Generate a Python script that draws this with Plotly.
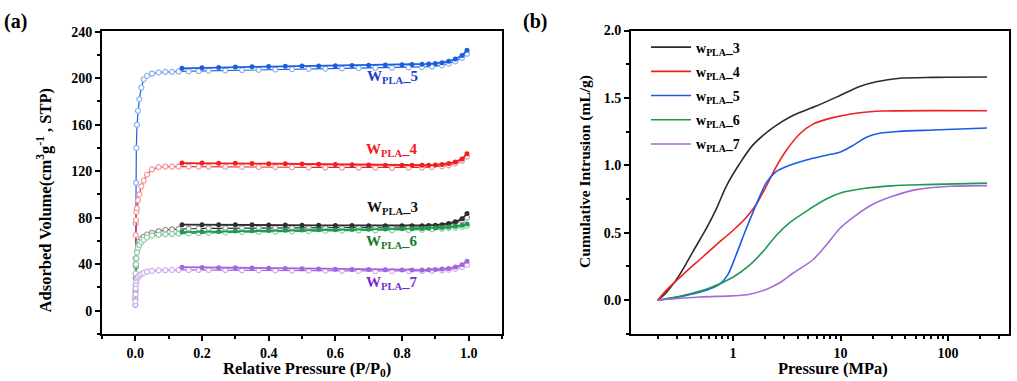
import plotly.graph_objects as go

# ---------------- Panel (a): N2 isotherms ----------------
P_ADS = [0.0, 0.0005, 0.001, 0.002, 0.003, 0.005, 0.008, 0.012, 0.018, 0.025, 0.035, 0.05,
         0.07, 0.09, 0.11, 0.13, 0.16, 0.19, 0.22, 0.27, 0.32, 0.37, 0.42, 0.47, 0.52, 0.57,
         0.62, 0.67, 0.72, 0.77, 0.82, 0.86, 0.89, 0.92, 0.94, 0.96, 0.98, 0.995]
P_DES = [0.14, 0.2, 0.25, 0.3, 0.35, 0.4, 0.45, 0.5, 0.55, 0.6, 0.65, 0.7, 0.75, 0.8, 0.83,
         0.86, 0.88, 0.9, 0.92, 0.94, 0.96, 0.98, 0.995]

W5_ADS = [5, 40, 75, 110, 140, 160, 172, 182, 192, 199, 202, 204, 205, 205.5, 205.5, 205.8,
          206, 206.2, 206.5, 206.7, 207, 207.2, 207.5, 207.8, 208, 208.3, 208.5, 208.7, 209,
          209, 209.3, 209.5, 210, 211, 212.5, 214.5, 217.5, 221]
W5_DES = [208.5, 209, 209.3, 209.6, 209.8, 210, 210.2, 210.4, 210.6, 210.8, 211, 211.2, 211.4,
          211.6, 211.8, 212, 212.3, 212.7, 213.3, 214.5, 216.5, 219.5, 224]

W4_ADS = [15, 45, 65, 78, 85, 88, 95, 100, 107, 112, 117, 121.5, 123.5, 124, 124, 124, 124,
          124, 124, 123.8, 123.7, 123.6, 123.5, 123.4, 123.3, 123.2, 123.1, 123, 123, 122.9,
          123, 123.2, 123.6, 124.2, 125, 126.5, 129, 132.5]
W4_DES = [127, 127, 126.9, 126.8, 126.7, 126.5, 126.4, 126.2, 126, 125.8, 125.6, 125.4, 125.2,
          125, 125, 125, 125.1, 125.3, 125.8, 126.6, 128, 130.5, 135]

W3_ADS = [10, 18, 28, 38, 45, 51, 56, 59.5, 62, 63.5, 65.5, 67, 68.5, 69.5, 70, 70.3, 70.5,
          70.7, 70.8, 71, 71, 71, 71.1, 71.2, 71.2, 71.3, 71.3, 71.4, 71.4, 71.5, 71.5, 71.8,
          72.2, 73, 74, 75.5, 77.5, 80]
W3_DES = [74, 74, 74, 73.9, 73.8, 73.7, 73.6, 73.5, 73.4, 73.3, 73.2, 73.1, 73, 73, 73, 73.1,
          73.3, 73.5, 74, 75, 76.5, 79, 83.5]

W6_ADS = [12, 22, 32, 40, 45, 50, 54, 56.5, 59, 61, 63, 64.5, 65.2, 65.7, 66, 66.3, 66.6,
          66.8, 67, 67.3, 67.6, 67.8, 68, 68.2, 68.4, 68.6, 68.8, 69, 69.1, 69.2, 69.3, 69.6,
          70, 70.5, 71, 71.5, 72.2, 73]
W6_DES = [67.6, 67.9, 68.2, 68.5, 68.7, 68.9, 69.1, 69.3, 69.5, 69.7, 69.9, 70.1, 70.3, 70.4,
          70.5, 70.7, 70.9, 71.2, 71.5, 72, 72.6, 73.4, 74.5]

W7_ADS = [8, 14, 19, 23, 25.5, 27.5, 29, 30.5, 31.5, 32.5, 33.5, 34.2, 34.6, 34.8, 35, 35, 35,
          35, 35, 34.9, 34.8, 34.7, 34.6, 34.5, 34.5, 34.4, 34.3, 34.2, 34.1, 34, 34, 34.1,
          34.3, 34.7, 35.2, 36, 37.5, 39.5]
W7_DES = [37.4, 37.2, 37, 36.8, 36.6, 36.4, 36.2, 36, 35.8, 35.6, 35.5, 35.4, 35.2, 35, 35, 35,
          35.1, 35.4, 35.8, 36.3, 37.5, 39.5, 42.5]

# ---------------- Panel (b): mercury intrusion ----------------
P_W3 = [0.2, 0.24, 0.32, 0.425, 0.565, 0.70, 0.867, 1.15, 1.53, 2.36, 3.61, 5.96, 10, 15.1,
        21.5, 35.5, 72.5, 230]
V_W3 = [0, 0.056, 0.19, 0.36, 0.53, 0.675, 0.845, 1.01, 1.15, 1.28, 1.37, 1.44, 1.52, 1.585,
        1.62, 1.646, 1.653, 1.655]
P_W4 = [0.2, 0.24, 0.343, 0.49, 0.70, 1.0, 1.33, 1.65, 2.04, 2.53, 3.13, 4.17, 5.55, 8.52,
        15.1, 24.8, 230]
V_W4 = [0, 0.073, 0.19, 0.30, 0.41, 0.517, 0.614, 0.711, 0.845, 0.99, 1.11, 1.233, 1.306,
        1.354, 1.39, 1.403, 1.405]
P_W5 = [0.2, 0.343, 0.565, 0.75, 0.898, 1.07, 1.33, 1.65, 2.04, 2.53, 3.37, 4.81, 7.38, 10,
        13.1, 17.4, 23.1, 35.5, 72.5, 230]
V_W5 = [0, 0.03, 0.073, 0.117, 0.19, 0.335, 0.53, 0.711, 0.87, 0.954, 1.0, 1.04, 1.075, 1.1,
        1.148, 1.209, 1.238, 1.252, 1.262, 1.277]
P_W6 = [0.2, 0.343, 0.607, 1.0, 1.43, 1.9, 2.53, 3.37, 4.6, 7.38, 10, 17, 30, 60, 230]
V_W6 = [0, 0.035, 0.09, 0.17, 0.26, 0.36, 0.48, 0.575, 0.65, 0.75, 0.795, 0.83, 0.848, 0.857,
        0.868]
P_W7 = [0.2, 0.49, 1.0, 1.43, 2.04, 2.72, 3.61, 5.55, 7.38, 9.8, 13.1, 20, 30.9, 50.7, 104, 230]
V_W7 = [0, 0.024, 0.032, 0.044, 0.08, 0.129, 0.2, 0.3, 0.41, 0.53, 0.614, 0.711, 0.772, 0.82,
        0.845, 0.85]

FONT = "Liberation Serif"
W, H = 1017, 381

fig = go.Figure()

iso = [
    ("5", W5_ADS, W5_DES, "#1a5fe0", "#8fb2ef"),
    ("4", W4_ADS, W4_DES, "#ee2020", "#f39a9a"),
    ("3", W3_ADS, W3_DES, "#2e2e2e", "#9a9a9a"),
    ("6", W6_ADS, W6_DES, "#1f9a50", "#8fd0a8"),
    ("7", W7_ADS, W7_DES, "#a366dc", "#cfb0ee"),
]
for name, ads, des, col, light in iso:
    fig.add_trace(go.Scatter(
        x=P_ADS, y=ads, mode="lines+markers", xaxis="x", yaxis="y", showlegend=False,
        line=dict(color=col, width=1.2),
        marker=dict(symbol="circle", size=5, color="white", line=dict(color=light, width=1.2)),
    ))
    fig.add_trace(go.Scatter(
        x=P_DES, y=des, mode="lines+markers", xaxis="x", yaxis="y", showlegend=False,
        line=dict(color=col, width=1.8),
        marker=dict(symbol="circle", size=5, color=col),
    ))

mip = [
    ("3", P_W3, V_W3, "#2b2b2b"),
    ("4", P_W4, V_W4, "#f02020"),
    ("5", P_W5, V_W5, "#1a5ce8"),
    ("6", P_W6, V_W6, "#1f9a50"),
    ("7", P_W7, V_W7, "#a56ad8"),
]
for name, px, py, col in mip:
    fig.add_trace(go.Scatter(
        x=px, y=py, mode="lines", xaxis="x2", yaxis="y2",
        name="w<sub>PLA</sub>_" + name, legendgroup="g" + name,
        line=dict(color=col, width=1.6, shape="spline", smoothing=0.8),
    ))

tickfont = dict(family=FONT, size=14, color="black", weight="bold")
axcommon = dict(showline=True, linecolor="black", linewidth=2, mirror=True,
                ticks="outside", ticklen=5, tickwidth=1.5, tickcolor="black",
                showgrid=False, zeroline=False, tickfont=tickfont)
minor_style = dict(ticks="outside", ticklen=3, tickwidth=1.5, tickcolor="black")

fig.update_layout(
    width=W, height=H,
    margin=dict(l=0, r=0, t=0, b=0),
    paper_bgcolor="white", plot_bgcolor="white",
    font=dict(family=FONT, color="black"),
    xaxis=dict(domain=[102 / W, 502 / W], range=[-0.1, 1.1], tickvals=[0, 0.2, 0.4, 0.6, 0.8, 1.0],
               tickformat=".1f", anchor="y", minor=dict(dtick=0.1, tick0=0, **minor_style),
               **axcommon),
    yaxis=dict(domain=[48 / H, 357 / H], range=[-20, 241], tickvals=[0, 40, 80, 120, 160, 200, 240],
               anchor="x", minor=dict(dtick=20, tick0=0, **minor_style),
               **axcommon),
    xaxis2=dict(domain=[631 / W, 1009 / W], type="log", range=[-0.947, 2.566], dtick=1,
                anchor="y2", minor=dict(dtick="D1", **minor_style),
                **axcommon),
    yaxis2=dict(domain=[48 / H, 357 / H], range=[-0.25, 2.0], tickvals=[0, 0.5, 1.0, 1.5, 2.0],
                tickformat=".1f", anchor="x2", minor=dict(dtick=0.25, tick0=0, **minor_style),
                **axcommon),
    legend=dict(x=646 / W, y=1 - 25 / H, xanchor="left", yanchor="top",
                bgcolor="rgba(0,0,0,0)", borderwidth=0,
                font=dict(family=FONT, size=14, color="black", weight="bold"),
                itemwidth=40, tracegroupgap=3),
)

titlefont = dict(family=FONT, size=16.5, color="black", weight="bold")
ann = [
    dict(text="(a)", x=2 / W, y=1 - 15 / H, xanchor="left", yanchor="middle",
         font=dict(family=FONT, size=20, color="black", weight="bold")),
    dict(text="(b)", x=521 / W, y=1 - 15 / H, xanchor="left", yanchor="middle",
         font=dict(family=FONT, size=20, color="black", weight="bold")),
    dict(text="Relative Pressure (P/P<sub>0</sub>)", x=307 / W, y=1 - 369 / H,
         xanchor="center", yanchor="middle", font=titlefont),
    dict(text="Adsorbed Volume(cm<sup>3</sup>g<sup>-1</sup> , STP)", x=44 / W, y=1 - 197 / H,
         xanchor="center", yanchor="middle", textangle=-90, font=titlefont),
    dict(text="Pressure (MPa)", x=833 / W, y=1 - 368 / H,
         xanchor="center", yanchor="middle", font=titlefont),
    dict(text="Cumulative Intrusion (mL/g)", x=585 / W, y=1 - 168 / H,
         xanchor="center", yanchor="middle", textangle=-90,
         font=dict(family=FONT, size=15.5, color="black", weight="bold")),
]
labels_a = [("5", 0.77, 201, "#1a3fcf"), ("4", 0.77, 138, "#ee2020"), ("3", 0.77, 88, "#111111"),
            ("6", 0.77, 59, "#15782e"), ("7", 0.77, 24, "#7a2ad0")]
for name, lx, ly, c in labels_a:
    ann.append(dict(text="W<sub>PLA</sub>_" + name, x=lx, y=ly, xref="x", yref="y",
                    showarrow=False, xanchor="center", yanchor="middle",
                    font=dict(family=FONT, size=15, color=c, weight="bold")))
for a in ann:
    a.setdefault("xref", "paper")
    a.setdefault("yref", "paper")
    a.setdefault("showarrow", False)
fig.update_layout(annotations=ann)

fig.write_html("out.html", config={"displayModeBar": False},
               post_script="document.body.style.margin='0';document.body.style.overflow='hidden';")
